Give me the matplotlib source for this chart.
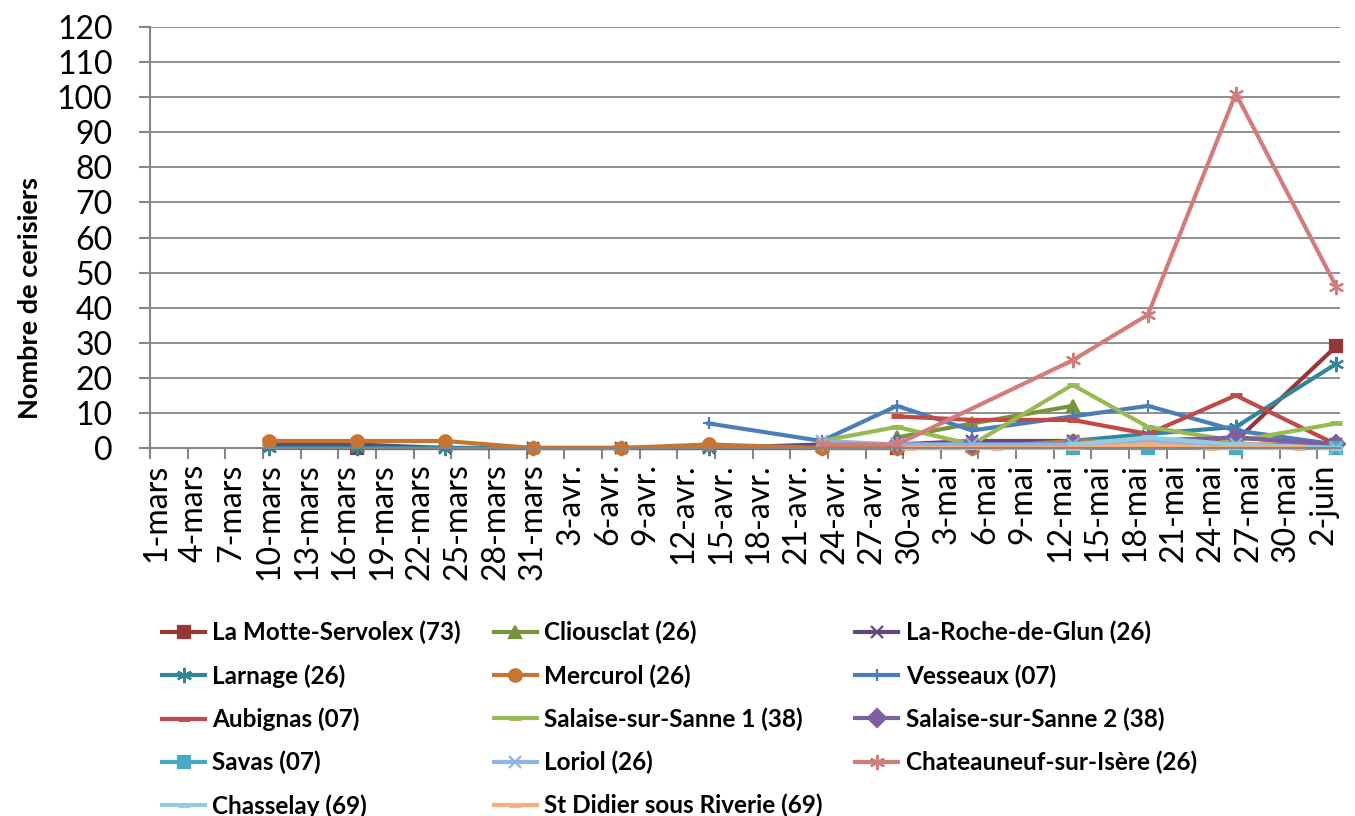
import matplotlib.pyplot as plt
import pandas as pd

plt.rcParams['font.family'] = ['Lato', 'DejaVu Sans']

start = pd.Timestamp("2011-03-01")

# tick labels every 3 days, 1-mars .. 2-juin
tick_labels = ["1-mars", "4-mars", "7-mars", "10-mars", "13-mars", "16-mars",
               "19-mars", "22-mars", "25-mars", "28-mars", "31-mars",
               "3-avr.", "6-avr.", "9-avr.", "12-avr.", "15-avr.", "18-avr.",
               "21-avr.", "24-avr.", "27-avr.", "30-avr.",
               "3-mai", "6-mai", "9-mai", "12-mai", "15-mai", "18-mai",
               "21-mai", "24-mai", "27-mai", "30-mai", "2-juin"]
tick_dates = pd.date_range("2011-03-01", "2011-06-02", freq="3D")

# data: dates and counts per site
lamotte_dates = ["2011-03-17", "2011-04-29", "2011-05-26", "2011-06-03"]
lamotte_vals = [0, 0, 2, 29]

cliousclat_dates = ["2011-04-29", "2011-05-05", "2011-05-13"]
cliousclat_vals = [3, 7, 12]

laroche_dates = ["2011-03-10", "2011-03-17", "2011-03-24", "2011-03-31", "2011-04-07",
                 "2011-04-14", "2011-04-23", "2011-04-29", "2011-05-05", "2011-05-13",
                 "2011-05-19", "2011-05-26", "2011-06-03"]
laroche_vals = [1, 1, 0, 0, 0, 0, 1, 1, 2, 2, 2, 3, 1]

larnage_dates = ["2011-03-10", "2011-03-17", "2011-03-24", "2011-03-31", "2011-04-07",
                 "2011-04-14", "2011-04-23", "2011-04-29", "2011-05-05", "2011-05-13",
                 "2011-05-19", "2011-05-26", "2011-06-03"]
larnage_vals = [0, 0, 0, 0, 0, 0, 0, 0, 0, 2, 4, 6, 24]

mercurol_dates = ["2011-03-10", "2011-03-17", "2011-03-24", "2011-03-31", "2011-04-07",
                  "2011-04-14", "2011-04-23", "2011-04-29", "2011-05-05", "2011-05-13",
                  "2011-05-19", "2011-05-26", "2011-06-03"]
mercurol_vals = [2, 2, 2, 0, 0, 1, 0, 0, 0, 2, 2, 1, 1]

vesseaux_dates = ["2011-04-14", "2011-04-23", "2011-04-29", "2011-05-05", "2011-05-13",
                  "2011-05-19", "2011-05-26", "2011-06-03"]
vesseaux_vals = [7, 2, 12, 5, 9, 12, 5, 1]

aubignas_dates = ["2011-04-29", "2011-05-05", "2011-05-13", "2011-05-19", "2011-05-26",
                  "2011-06-03"]
aubignas_vals = [9, 8, 8, 4, 15, 1]

salaise1_dates = ["2011-04-23", "2011-04-29", "2011-05-05", "2011-05-13", "2011-05-19",
                  "2011-05-26", "2011-06-03"]
salaise1_vals = [2, 6, 1, 18, 6, 2, 7]

salaise2_dates = ["2011-04-29", "2011-05-05", "2011-05-13", "2011-05-19", "2011-05-26",
                  "2011-06-03"]
salaise2_vals = [1, 1, 1, 2, 3, 1]

savas_dates = ["2011-05-13", "2011-05-19", "2011-05-26", "2011-06-03"]
savas_vals = [0, 0, 0, 0]

loriol_dates = ["2011-04-23", "2011-04-29", "2011-05-05", "2011-05-13", "2011-05-19",
                "2011-05-26", "2011-06-03"]
loriol_vals = [2, 1, 1, 1, 2, 1, 0]

chateauneuf_dates = ["2011-04-23", "2011-04-29", "2011-05-13", "2011-05-19", "2011-05-26",
                     "2011-06-03"]
chateauneuf_vals = [1, 1, 25, 38, 101, 46]

chasselay_dates = ["2011-05-13", "2011-05-19", "2011-05-26", "2011-06-03"]
chasselay_vals = [1, 3, 1, 0]

stdidier_dates = ["2011-04-30", "2011-05-07", "2011-05-13", "2011-05-19", "2011-05-24",
                  "2011-05-31"]
stdidier_vals = [0, 0, 0, 1, 0, 0]

series = [
    ("La Motte-Servolex (73)", lamotte_dates, lamotte_vals, "#953735", "s"),
    ("Cliousclat (26)", cliousclat_dates, cliousclat_vals, "#77933C", "^"),
    ("La-Roche-de-Glun (26)", laroche_dates, laroche_vals, "#604A7B", "x"),
    ("Larnage (26)", larnage_dates, larnage_vals, "#31859C", (6, 2, 0)),
    ("Mercurol (26)", mercurol_dates, mercurol_vals, "#C87532", "o"),
    ("Vesseaux (07)", vesseaux_dates, vesseaux_vals, "#4A7EBB", "+"),
    ("Aubignas (07)", aubignas_dates, aubignas_vals, "#BE4B48", "_"),
    ("Salaise-sur-Sanne 1 (38)", salaise1_dates, salaise1_vals, "#98B954", "_"),
    ("Salaise-sur-Sanne 2 (38)", salaise2_dates, salaise2_vals, "#7D60A0", "D"),
    ("Savas (07)", savas_dates, savas_vals, "#46AAC5", "s"),
    ("Loriol (26)", loriol_dates, loriol_vals, "#8EB4E3", "x"),
    ("Chateauneuf-sur-Isère (26)", chateauneuf_dates, chateauneuf_vals, "#D27D7B", (6, 2, 0)),
    ("Chasselay (69)", chasselay_dates, chasselay_vals, "#93CDDD", "_"),
    ("St Didier sous Riverie (69)", stdidier_dates, stdidier_vals, "#FAAE7B", "_"),
]

fig = plt.figure(figsize=(13.55, 8.16), dpi=100)
ax = fig.add_axes([150 / 1355, 1 - 448 / 816, 1190 / 1355, 421 / 816])

handles = []
for name, dates, vals, color, marker in series:
    x = [(pd.Timestamp(d) - start).days for d in dates]
    mew = 3.5 if marker == "_" else 1.6
    ms = 11 if isinstance(marker, tuple) else 9
    line, = ax.plot(x, vals, color=color, lw=3, marker=marker, ms=ms,
                    mec=color, mfc=color, mew=mew, label=name, clip_on=False)
    handles.append(line)

ax.set_xlim(-0.5, 94.3)
ax.set_ylim(0, 120)

tick_x = [(d - start).days for d in tick_dates]
ax.set_xticks([t - 0.5 for t in tick_x])
ax.set_xticklabels([])
ax.set_xticks(tick_x, minor=True)
ax.set_xticklabels(tick_labels, minor=True, rotation=90, fontsize=23)
ax.tick_params(axis="x", which="major", length=8, width=1.5, color="#868686", direction="out")
ax.tick_params(axis="x", which="minor", length=0, pad=11)

ax.set_yticks(range(0, 121, 10))
ax.tick_params(axis="y", labelsize=23, length=8, width=1.5, color="#868686", pad=19)

ax.grid(axis="y", color="#868686", lw=1.3)
ax.set_axisbelow(True)
for s in ["top", "right"]:
    ax.spines[s].set_visible(False)
for s in ["left", "bottom"]:
    ax.spines[s].set_color("#868686")
    ax.spines[s].set_linewidth(1.5)

fig.text(30 / 1355, 1 - 298 / 816, "Nombre de cerisiers", rotation=90,
         fontsize=19.5, fontweight="bold", ha="center", va="center")

# reorder so the legend reads row by row
order = [0, 3, 6, 9, 12, 1, 4, 7, 10, 13, 2, 5, 8, 11]
fig.legend([handles[i] for i in order], [series[i][0] for i in order],
           loc="upper left", bbox_to_anchor=(162 / 1355, 1 - 621 / 816),
           ncol=3, frameon=False, borderpad=0, borderaxespad=0,
           prop={"weight": "bold", "size": 17.5}, handlelength=1.77,
           handletextpad=0.3, columnspacing=1.35, labelspacing=0.81)

fig.savefig("out.png", dpi=100)
